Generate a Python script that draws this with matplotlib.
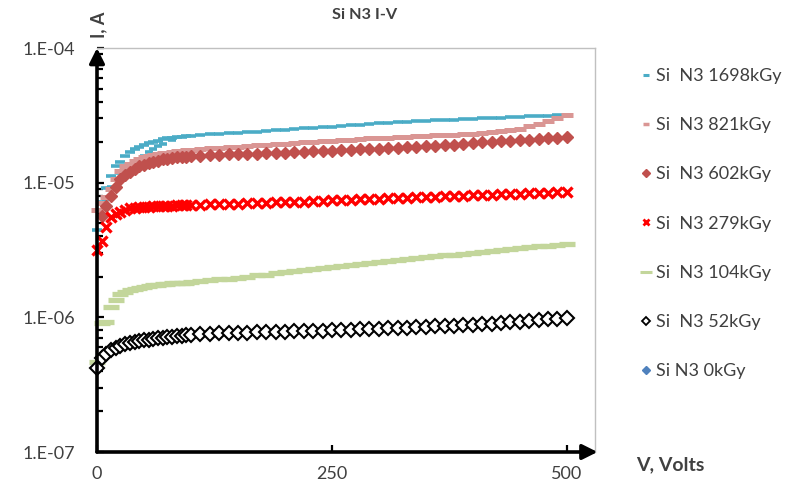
import matplotlib
matplotlib.use("Agg")
import matplotlib.pyplot as plt
import numpy as np
from matplotlib.lines import Line2D
from matplotlib.ticker import LogLocator, NullFormatter

plt.rcParams["font.family"] = ["Lato", "DejaVu Sans"]

# measured bias points (V)
volts = [0, 5, 10, 15, 20, 25, 30, 35, 40, 45,
         50, 55, 60, 65, 70, 75, 80, 85, 90, 95, 100,
         110, 120, 130, 140, 150, 160, 170, 180, 190, 200,
         210, 220, 230, 240, 250, 260, 270, 280, 290, 300,
         310, 320, 330, 340, 350, 360, 370, 380, 390, 400,
         410, 420, 430, 440, 450, 460, 470, 480, 490, 500]

# leakage current (A) for each dose
i_1698 = [4.47e-6, 7.24e-6, 9.12e-6, 1.12e-5, 1.32e-5, 1.43e-5, 1.57e-5, 1.68e-5, 1.77e-5, 1.83e-5,
          1.91e-5, 1.96e-5, 2.00e-5, 2.05e-5, 2.10e-5, 2.14e-5, 2.16e-5, 2.18e-5, 2.20e-5, 2.22e-5, 2.23e-5,
          2.26e-5, 2.29e-5, 2.31e-5, 2.33e-5, 2.35e-5, 2.37e-5, 2.39e-5, 2.42e-5, 2.44e-5, 2.47e-5,
          2.50e-5, 2.53e-5, 2.56e-5, 2.58e-5, 2.61e-5, 2.64e-5, 2.67e-5, 2.70e-5, 2.73e-5, 2.76e-5,
          2.79e-5, 2.82e-5, 2.84e-5, 2.86e-5, 2.88e-5, 2.90e-5, 2.92e-5, 2.94e-5, 2.96e-5, 2.98e-5,
          3.00e-5, 3.02e-5, 3.04e-5, 3.06e-5, 3.08e-5, 3.10e-5, 3.13e-5, 3.15e-5, 3.17e-5, 3.19e-5]

# second sweep of the 1698 kGy sample at low bias
volts_1698_back = [10, 15, 20, 25, 30, 35, 40, 45, 50, 55, 60, 65, 70, 80]
i_1698_back = [7.6e-6, 9.3e-6, 1.06e-5, 1.17e-5, 1.24e-5, 1.32e-5, 1.40e-5,
               1.48e-5, 1.58e-5, 1.68e-5, 1.78e-5, 1.86e-5, 1.95e-5, 2.07e-5]

i_821 = [6.31e-6, 7.08e-6, 7.76e-6, 9.02e-6, 1.07e-5, 1.22e-5, 1.32e-5, 1.38e-5, 1.44e-5, 1.50e-5,
         1.54e-5, 1.58e-5, 1.61e-5, 1.63e-5, 1.66e-5, 1.67e-5, 1.69e-5, 1.71e-5, 1.72e-5, 1.74e-5, 1.75e-5,
         1.78e-5, 1.80e-5, 1.82e-5, 1.83e-5, 1.85e-5, 1.87e-5, 1.89e-5, 1.91e-5, 1.93e-5, 1.95e-5,
         1.98e-5, 2.00e-5, 2.01e-5, 2.03e-5, 2.05e-5, 2.07e-5, 2.09e-5, 2.11e-5, 2.13e-5, 2.15e-5,
         2.16e-5, 2.18e-5, 2.19e-5, 2.21e-5, 2.22e-5, 2.24e-5, 2.25e-5, 2.26e-5, 2.28e-5, 2.30e-5,
         2.32e-5, 2.36e-5, 2.40e-5, 2.45e-5, 2.52e-5, 2.62e-5, 2.74e-5, 2.88e-5, 3.03e-5, 3.18e-5]

i_602 = [np.nan, 5.62e-6, 6.76e-6, 7.94e-6, 9.33e-6, 1.06e-5, 1.14e-5, 1.21e-5, 1.26e-5, 1.32e-5,
         1.36e-5, 1.39e-5, 1.43e-5, 1.46e-5, 1.49e-5, 1.51e-5, 1.53e-5, 1.54e-5, 1.55e-5, 1.56e-5, 1.57e-5,
         1.58e-5, 1.60e-5, 1.61e-5, 1.62e-5, 1.63e-5, 1.64e-5, 1.64e-5, 1.65e-5, 1.66e-5, 1.67e-5,
         1.68e-5, 1.69e-5, 1.71e-5, 1.72e-5, 1.73e-5, 1.74e-5, 1.75e-5, 1.77e-5, 1.78e-5, 1.79e-5,
         1.80e-5, 1.82e-5, 1.83e-5, 1.85e-5, 1.87e-5, 1.88e-5, 1.90e-5, 1.92e-5, 1.95e-5, 1.97e-5,
         1.99e-5, 2.01e-5, 2.03e-5, 2.05e-5, 2.07e-5, 2.09e-5, 2.11e-5, 2.14e-5, 2.16e-5, 2.18e-5]

i_279 = [3.16e-6, 3.72e-6, 4.68e-6, 5.56e-6, 5.89e-6, 6.10e-6, 6.27e-6, 6.43e-6, 6.52e-6, 6.56e-6,
         6.61e-6, 6.64e-6, 6.67e-6, 6.68e-6, 6.71e-6, 6.73e-6, 6.76e-6, 6.78e-6, 6.81e-6, 6.82e-6, 6.84e-6,
         6.87e-6, 6.90e-6, 6.93e-6, 6.97e-6, 7.00e-6, 7.03e-6, 7.06e-6, 7.10e-6, 7.13e-6, 7.16e-6,
         7.21e-6, 7.24e-6, 7.29e-6, 7.33e-6, 7.38e-6, 7.41e-6, 7.46e-6, 7.50e-6, 7.55e-6, 7.59e-6,
         7.64e-6, 7.67e-6, 7.73e-6, 7.76e-6, 7.82e-6, 7.85e-6, 7.91e-6, 7.94e-6, 8.00e-6, 8.04e-6,
         8.09e-6, 8.13e-6, 8.18e-6, 8.22e-6, 8.28e-6, 8.32e-6, 8.38e-6, 8.41e-6, 8.47e-6, 8.51e-6]

i_104 = [4.67e-7, 9.00e-7, 9.20e-7, 1.19e-6, 1.35e-6, 1.50e-6, 1.55e-6, 1.59e-6, 1.63e-6, 1.66e-6,
         1.69e-6, 1.71e-6, 1.73e-6, 1.75e-6, 1.76e-6, 1.77e-6, 1.79e-6, 1.79e-6, 1.80e-6, 1.81e-6, 1.82e-6,
         1.85e-6, 1.88e-6, 1.91e-6, 1.94e-6, 1.97e-6, 2.01e-6, 2.05e-6, 2.08e-6, 2.12e-6, 2.16e-6,
         2.20e-6, 2.24e-6, 2.28e-6, 2.32e-6, 2.36e-6, 2.40e-6, 2.44e-6, 2.48e-6, 2.52e-6, 2.57e-6,
         2.61e-6, 2.65e-6, 2.70e-6, 2.74e-6, 2.79e-6, 2.83e-6, 2.88e-6, 2.92e-6, 2.97e-6, 3.02e-6,
         3.07e-6, 3.12e-6, 3.17e-6, 3.22e-6, 3.27e-6, 3.32e-6, 3.37e-6, 3.41e-6, 3.46e-6, 3.51e-6]

i_52 = [4.17e-7, 5.01e-7, 5.31e-7, 5.69e-7, 5.96e-7, 6.14e-7, 6.30e-7, 6.43e-7, 6.53e-7, 6.64e-7,
        6.73e-7, 6.81e-7, 6.89e-7, 6.97e-7, 7.03e-7, 7.10e-7, 7.16e-7, 7.23e-7, 7.29e-7, 7.36e-7, 7.41e-7,
        7.48e-7, 7.53e-7, 7.59e-7, 7.62e-7, 7.66e-7, 7.69e-7, 7.73e-7, 7.76e-7, 7.80e-7, 7.83e-7,
        7.87e-7, 7.91e-7, 7.94e-7, 7.98e-7, 8.02e-7, 8.05e-7, 8.09e-7, 8.15e-7, 8.20e-7, 8.26e-7,
        8.32e-7, 8.36e-7, 8.39e-7, 8.45e-7, 8.51e-7, 8.57e-7, 8.61e-7, 8.67e-7, 8.73e-7, 8.79e-7,
        8.87e-7, 8.97e-7, 9.08e-7, 9.18e-7, 9.29e-7, 9.40e-7, 9.53e-7, 9.66e-7, 9.77e-7, 9.91e-7]

# unirradiated sample: no points inside the plotted current range
volts_0 = []
i_0 = []

labels = ["Si  N3 1698kGy", "Si  N3 821kGy", "Si  N3 602kGy", "Si  N3 279kGy",
          "Si  N3 104kGy", "Si  N3 52kGy", "Si N3 0kGy"]
y_ticks = [1e-7, 1e-6, 1e-5, 1e-4]
y_tick_labels = ["1.E-07", "1.E-06", "1.E-05", "1.E-04"]
x_ticks = [0, 250, 500]
x_tick_labels = ["0", "250", "500"]

teal = "#4BACC6"
pink = "#DA9694"
brown = "#C0504D"
red = "#FF0000"
green = "#C3D69B"
blue = "#4F81BD"
text_grey = "#404040"

fig = plt.figure(figsize=(8.09, 4.86), dpi=100)
ax = fig.add_axes([97 / 809, 34 / 486, 498 / 809, 404 / 486])

kw = dict(linestyle="none", clip_on=False)
ax.plot(volts, i_1698, marker="_", ms=7, mew=2.6, color=teal, **kw)
ax.plot(volts_1698_back, i_1698_back, marker="_", ms=6, mew=2.6, color=teal, **kw)
ax.plot(volts, i_821, marker="_", ms=8, mew=3.6, color=pink, **kw)
ax.plot(volts, i_602, marker="D", ms=6, color=brown, mec=brown, **kw)
ax.plot(volts, i_279, marker="x", ms=6.5, mew=2.4, color=red, **kw)
ax.plot(volts, i_104, marker="_", ms=11, mew=3.8, color=green, **kw)
ax.plot(volts, i_52, marker="D", ms=7.5, mew=1.5, mfc="white", mec="black", **kw)
ax.plot(volts_0, i_0, marker="D", ms=5, color=blue, **kw)

ax.set_yscale("log")
ax.set_ylim(1e-7, 1e-4)
ax.set_xlim(0, 530)
ax.set_yticks(y_ticks, y_tick_labels)
ax.yaxis.set_minor_locator(LogLocator(base=10, subs=range(2, 10)))
ax.yaxis.set_minor_formatter(NullFormatter())
ax.set_xticks(x_ticks, x_tick_labels)

ax.tick_params(axis="y", which="major", direction="in", length=5, width=1.6, pad=16,
               labelsize=13, labelcolor=text_grey)
ax.tick_params(axis="y", which="minor", direction="in", length=4, width=1.6)
ax.tick_params(axis="x", direction="in", length=5, width=1.6, pad=10,
               labelsize=13, labelcolor=text_grey)

for side in ["left", "bottom"]:
    ax.spines[side].set_visible(False)
for side in ["top", "right"]:
    ax.spines[side].set_color("#C0C0C0")
    ax.spines[side].set_linewidth(1)

# arrowed axes
arrow = dict(arrowstyle="-|>,head_length=0.9,head_width=0.45", lw=2.6, color="black",
             shrinkA=0, shrinkB=0)
ax.annotate("", xy=(0, 1.0), xytext=(0, 0), xycoords="axes fraction", arrowprops=arrow)
ax.annotate("", xy=(1.005, 0), xytext=(0, 0), xycoords="axes fraction", arrowprops=arrow)

fig.text(365 / 809, 1 - 15 / 486, "Si N3 I-V", ha="center", va="center",
         fontsize=11.7, fontweight="bold", color=text_grey)
fig.text(99 / 809, 1 - 25 / 486, "I, A", ha="center", va="center", rotation=90,
         fontsize=13, fontweight="bold", color=text_grey)
fig.text(636 / 809, 1 - 465 / 486, "V, Volts", ha="left", va="center",
         fontsize=14, fontweight="bold", color=text_grey)

# legend keys drawn smaller than the plotted markers
keys = [
    Line2D([], [], linestyle="none", marker="_", ms=4.5, mew=2.2, color=teal),
    Line2D([], [], linestyle="none", marker="_", ms=5, mew=2.5, color=pink),
    Line2D([], [], linestyle="none", marker="D", ms=4.5, color=brown),
    Line2D([], [], linestyle="none", marker="x", ms=4, mew=2, color=red),
    Line2D([], [], linestyle="none", marker="_", ms=9, mew=2.2, color=green),
    Line2D([], [], linestyle="none", marker="D", ms=4.5, mew=1.3, mfc="white", mec="black"),
    Line2D([], [], linestyle="none", marker="D", ms=4.5, color=blue),
]
fig.legend(keys, labels, loc="upper left",
           bbox_to_anchor=(641 / 809, 1 - 68 / 486), frameon=False, fontsize=13,
           labelspacing=1.84, handlelength=0.6, handletextpad=0.25, borderpad=0,
           borderaxespad=0, numpoints=1, labelcolor=text_grey)

fig.savefig("out.png", dpi=100)
